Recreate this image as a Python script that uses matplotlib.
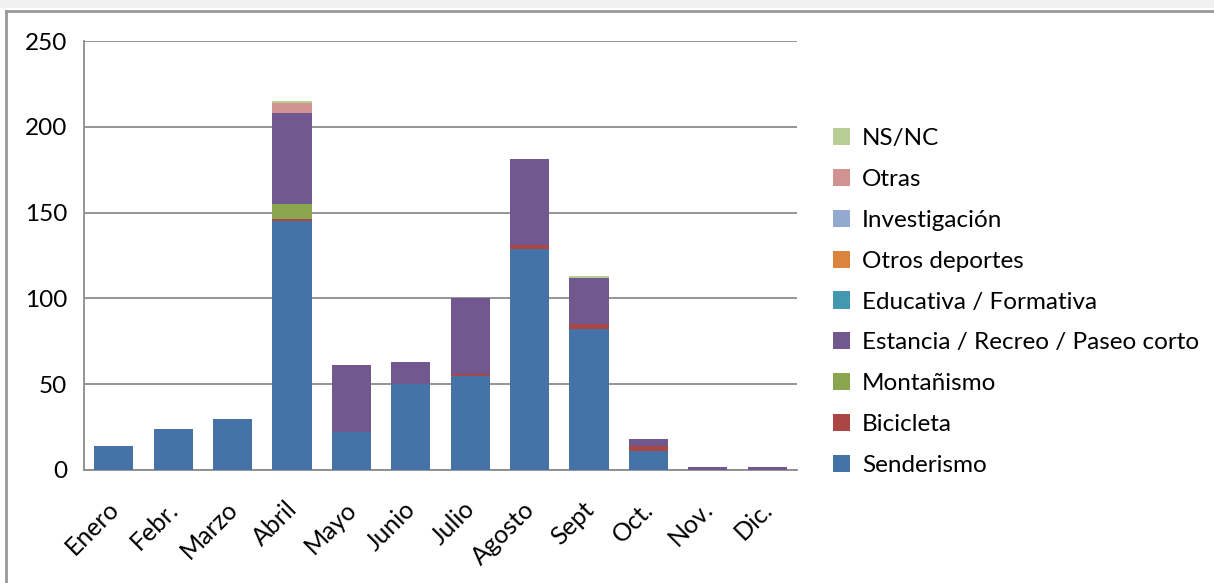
import matplotlib
matplotlib.use("Agg")
import matplotlib.pyplot as plt
from matplotlib.patches import Rectangle, Patch
from matplotlib.lines import Line2D
import matplotlib.transforms as mtransforms
import numpy as np

plt.rcParams['font.family'] = ['Lato', 'DejaVu Sans']

months = ["Enero", "Febr.", "Marzo", "Abril", "Mayo", "Junio", "Julio",
          "Agosto", "Sept", "Oct.", "Nov.", "Dic."]

senderismo    = [14, 24, 30, 145, 22, 50, 55, 129, 82, 11, 0, 0]
bicicleta     = [0, 0, 0, 1, 0, 0, 1, 2, 3, 3, 0, 0]
montanismo    = [0, 0, 0, 9, 0, 0, 0, 0, 0, 0, 0, 0]
estancia      = [0, 0, 0, 53, 39, 13, 44, 50, 27, 4, 2, 2]
educativa     = [0, 0, 0, 0, 0, 0, 0, 0, 0, 0, 0, 0]
otros_dep     = [0, 0, 0, 0, 0, 0, 0, 0, 0, 0, 0, 0]
investigacion = [0, 0, 0, 0, 0, 0, 0, 0, 0, 0, 0, 0]
otras         = [0, 0, 0, 6, 0, 0, 0, 0, 0, 0, 0, 0]
nsnc          = [0, 0, 0, 1, 0, 0, 0, 0, 1, 0, 0, 0]

series_names = ["Senderismo", "Bicicleta", "Montañismo",
                "Estancia / Recreo / Paseo corto", "Educativa / Formativa",
                "Otros deportes", "Investigación", "Otras", "NS/NC"]
series_vals = [senderismo, bicicleta, montanismo, estancia, educativa,
               otros_dep, investigacion, otras, nsnc]
colors = ["#4572A7", "#AA4643", "#89A54E", "#71588F", "#4198AF",
          "#DB843D", "#93A9CF", "#D19392", "#B9CD96"]
yticks = [0, 50, 100, 150, 200, 250]

W, H = 1214, 583
fig = plt.figure(figsize=(W / 100, H / 100), dpi=100)
fig.patch.set_facecolor("white")

# top grey strip and outer frame (top and left edges only)
fig.patches.append(Rectangle((0, 1 - 8 / H), 1, 8 / H, transform=fig.transFigure,
                             facecolor="#f0f0f0", edgecolor="none", zorder=0))
fig.add_artist(Line2D([6 / W, 1.0], [1 - 11 / H, 1 - 11 / H],
                      transform=fig.transFigure, color="#999999", linewidth=2))
fig.add_artist(Line2D([6 / W, 6 / W], [0, 1 - 11 / H],
                      transform=fig.transFigure, color="#999999", linewidth=2))

ax = fig.add_axes([84 / W, 1 - 470 / H, (797 - 84) / W, (470 - 41) / H])
x = np.arange(len(months))
bottom = np.zeros(len(months))
handles = []
for name, vals, c in zip(series_names, series_vals, colors):
    v = np.array(vals, dtype=float)
    ax.bar(x, v, width=0.66, bottom=bottom, color=c, linewidth=0, zorder=3)
    bottom += v
    handles.append(Patch(facecolor=c, edgecolor="none", label=name))

ax.set_xlim(-0.5, len(months) - 0.5)
ax.set_ylim(0, 250)
ax.set_yticks(yticks)
ax.set_yticklabels([str(t) for t in yticks], fontsize=17.5)
ax.yaxis.grid(True, color="#8c8c8c", linewidth=1.3, zorder=0)
ax.set_axisbelow(True)
ax.set_xticks(x)
ax.set_xticklabels(months, fontsize=18, rotation=45, ha="right", va="top",
                   rotation_mode="anchor")
ax.tick_params(axis="y", length=0, pad=12)
ax.tick_params(axis="x", length=0, pad=16)
offset = mtransforms.ScaledTranslation(-7 / 100, -5 / 100, fig.dpi_scale_trans)
for lbl in ax.get_xticklabels():
    lbl.set_transform(lbl.get_transform() + offset)
for s in ["top", "right"]:
    ax.spines[s].set_visible(False)
for s in ["left", "bottom"]:
    ax.spines[s].set_color("#8c8c8c")
    ax.spines[s].set_linewidth(1.3)

leg = fig.legend(handles[::-1], series_names[::-1], loc="center left",
                 bbox_to_anchor=(811 / W, 1 - 302 / H), frameon=False,
                 fontsize=17.5, handlelength=0.7, handleheight=0.7,
                 handletextpad=0.5, labelspacing=0.82)

fig.savefig("out.png", dpi=100)
